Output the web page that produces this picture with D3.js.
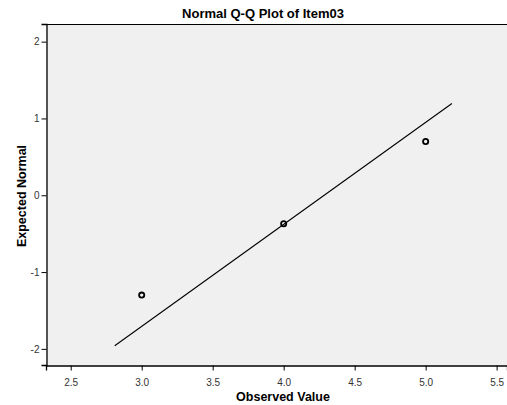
<!DOCTYPE html>
<html>
<head>
<meta charset="utf-8">
<script src="https://cdn.jsdelivr.net/npm/d3@7"></script>
<style>
  body { margin: 0; background: #fff; }
  text { font-family: "Liberation Sans", Arial, sans-serif; }
</style>
</head>
<body>
<svg id="chart" width="507" height="405"></svg>
<script>
// valeurs observées et normales attendues
var observed = [3.0, 4.0, 5.0];
var expected = [-1.30, -0.37, 0.70];
// droite de référence (extrémités)
var lineX = [2.81, 5.185];
var lineY = [-1.96, 1.195];
var xTicks = [2.5, 3.0, 3.5, 4.0, 4.5, 5.0, 5.5];
var yTicks = [-2, -1, 0, 1, 2];

var svg = d3.select("#chart");
var plotLeft = 46, plotTop = 24, plotRight = 507, plotBottom = 365;

var x = d3.scaleLinear().domain([2.326, 5.573]).range([plotLeft, plotRight]);
var y = d3.scaleLinear().domain([-2.21, 2.23]).range([plotBottom, plotTop]);

// fond du graphique
svg.append("rect")
    .attr("x", plotLeft).attr("y", plotTop)
    .attr("width", plotRight - plotLeft).attr("height", plotBottom - plotTop)
    .attr("fill", "#f0f0f0");

svg.append("line")
    .attr("x1", plotLeft).attr("x2", plotRight)
    .attr("y1", plotTop + 0.5).attr("y2", plotTop + 0.5)
    .attr("stroke", "#000");

var xAxis = svg.append("g")
    .attr("transform", "translate(0," + (plotBottom + 0.5) + ")")
    .call(d3.axisBottom(x).tickValues(xTicks).tickFormat(d3.format(".1f")).tickSizeOuter(0).tickSize(5));
var yAxis = svg.append("g")
    .attr("transform", "translate(" + (plotLeft + 0.5) + ",0)")
    .call(d3.axisLeft(y).tickValues(yTicks).tickFormat(function(d) { return String(d); }).tickSizeOuter(0).tickSize(5));

[xAxis, yAxis].forEach(function(a) {
    a.select(".domain").attr("stroke", "#000").attr("stroke-width", 1.3);
    a.selectAll("text").attr("font-size", 10).attr("fill", "#333")
        .style("font-family", "Liberation Sans, Arial, sans-serif");
});
xAxis.selectAll("text").attr("dy", "1.2em");
yAxis.selectAll("text").attr("dx", "0.1em");

// droite
svg.append("line")
    .attr("x1", x(lineX[0])).attr("y1", y(lineY[0]))
    .attr("x2", x(lineX[1])).attr("y2", y(lineY[1]))
    .attr("stroke", "#000").attr("stroke-width", 1.1);

// points
svg.selectAll("circle.pt")
    .data(observed)
    .enter().append("circle")
    .attr("class", "pt")
    .attr("cx", function(d) { return x(d); })
    .attr("cy", function(d, i) { return y(expected[i]); })
    .attr("r", 2.6)
    .attr("fill", "none")
    .attr("stroke", "#000")
    .attr("stroke-width", 1.8);

// titres
svg.append("text")
    .attr("x", 263).attr("y", 18)
    .attr("text-anchor", "middle")
    .attr("font-size", 13).attr("font-weight", "bold")
    .text("Normal Q-Q Plot of Item03");

svg.append("text")
    .attr("x", 283).attr("y", 401)
    .attr("text-anchor", "middle")
    .attr("font-size", 12.5).attr("font-weight", "bold")
    .text("Observed Value");

svg.append("text")
    .attr("transform", "translate(26,196) rotate(-90)")
    .attr("text-anchor", "middle")
    .attr("font-size", 12.5).attr("font-weight", "bold")
    .text("Expected Normal");
</script>
</body>
</html>
